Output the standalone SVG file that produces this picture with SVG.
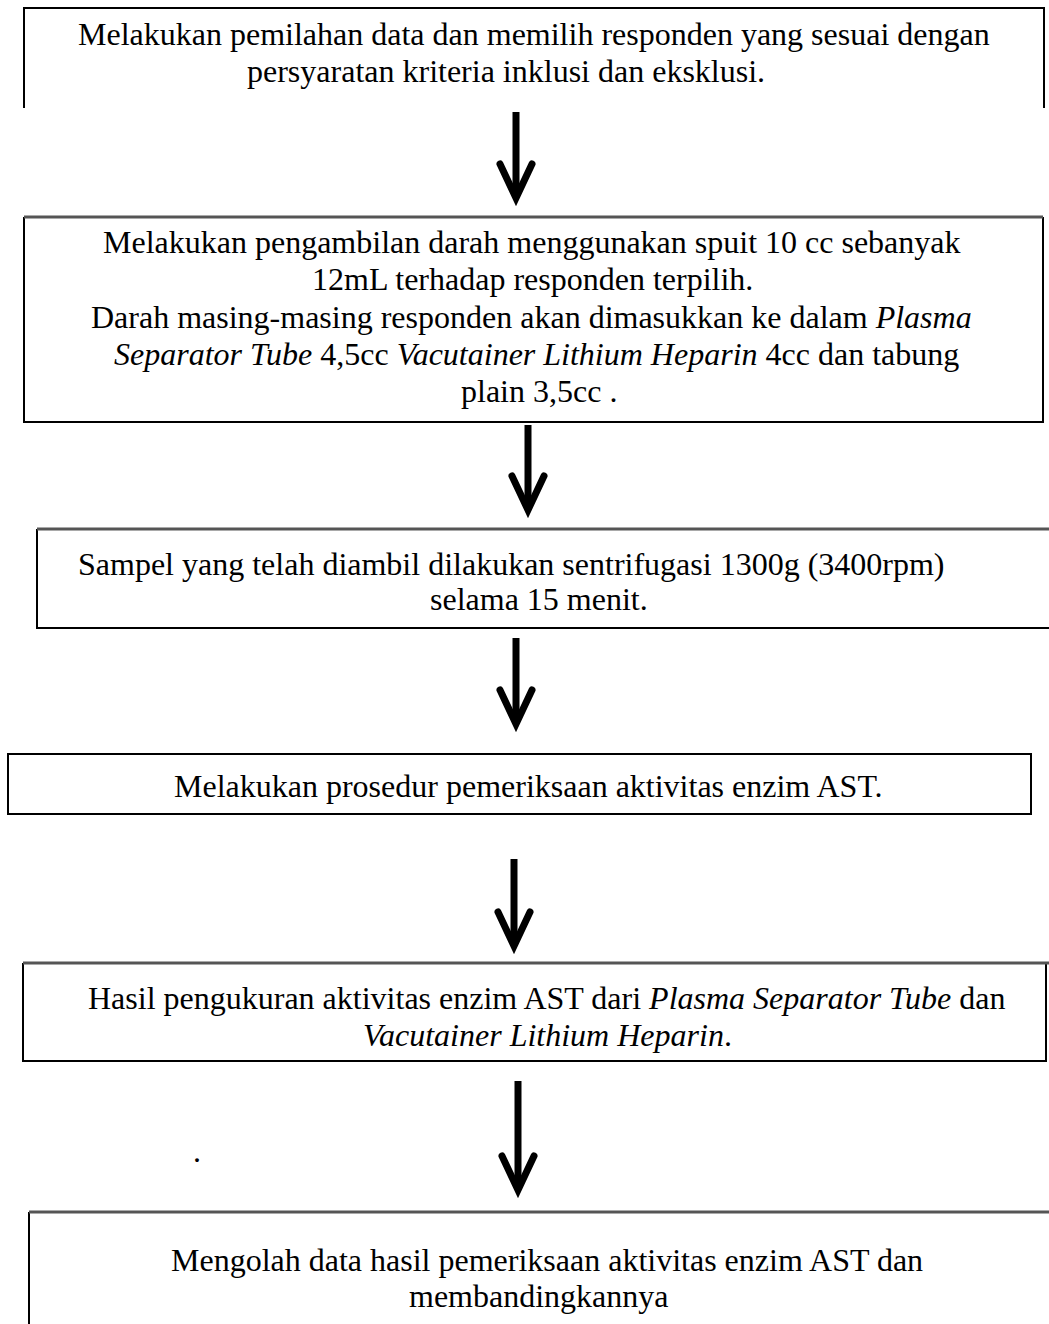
<svg xmlns="http://www.w3.org/2000/svg" width="1049" height="1324" viewBox="0 0 1049 1324">
<style>
  .t { font-family: "Liberation Serif", "Times New Roman", serif; font-size: 32px; fill: #000; }
  .i { font-style: italic; }
  .edge { stroke: #000; stroke-width: 2; fill: none; }
  .edgeg { stroke: #555; stroke-width: 3; fill: none; }
  .shaft { stroke: #000; stroke-width: 7; fill: none; marker-end: url(#head); }
</style>
<defs>
  <marker id="head" markerUnits="userSpaceOnUse" viewBox="-45 -25 60 50" refX="0" refY="0" markerWidth="60" markerHeight="50" orient="auto">
    <path d="M-34,-16 L0,0 L-34,16" stroke="#000" stroke-width="7" fill="none" stroke-linecap="round" stroke-linejoin="miter" stroke-miterlimit="10"/>
  </marker>
</defs>
<rect width="1049" height="1324" fill="#fff"/>

<g id="node1">
  <path class="edge" d="M24,108 V8 H1044 V108"/>
  <text class="t" x="78" y="45">Melakukan pemilahan data dan memilih responden yang sesuai dengan</text>
  <text class="t" x="247" y="82">persyaratan kriteria inklusi dan eksklusi.</text>
</g>

<g id="node2">
  <path class="edge" d="M24,217 V422 H1043 V217"/>
  <path class="edgeg" d="M24,217 H1043"/>
  <text class="t" x="103" y="253">Melakukan pengambilan darah menggunakan spuit 10 cc sebanyak</text>
  <text class="t" x="312" y="290">12mL terhadap responden terpilih.</text>
  <text class="t" x="91" y="328">Darah masing-masing responden akan dimasukkan ke dalam <tspan class="i">Plasma</tspan></text>
  <text class="t" x="114" y="365"><tspan class="i">Separator Tube</tspan> 4,5cc <tspan class="i">Vacutainer Lithium Heparin</tspan> 4cc dan tabung</text>
  <text class="t" x="461" y="402">plain 3,5cc .</text>
</g>

<g id="node3">
  <path class="edge" d="M1049,628 H37 V529"/>
  <path class="edgeg" d="M37,529 H1049"/>
  <text class="t" x="78" y="575">Sampel yang telah diambil dilakukan sentrifugasi 1300g (3400rpm)</text>
  <text class="t" x="430" y="610">selama 15 menit.</text>
</g>

<g id="node4">
  <rect class="edge" x="8" y="754" width="1023" height="60"/>
  <text class="t" x="174" y="797">Melakukan prosedur pemeriksaan aktivitas enzim AST.</text>
</g>

<g id="node5">
  <path class="edge" d="M23,963 V1061 H1046 V963"/>
  <path class="edgeg" d="M23,963 H1049"/>
  <text class="t" x="88" y="1009">Hasil pengukuran aktivitas enzim AST dari <tspan class="i">Plasma Separator Tube</tspan> dan</text>
  <text class="t" x="363" y="1046"><tspan class="i">Vacutainer Lithium Heparin</tspan>.</text>
</g>

<g id="node6">
  <path class="edge" d="M29,1324 V1212"/>
  <path class="edgeg" d="M29,1212 H1049"/>
  <text class="t" x="171" y="1271">Mengolah data hasil pemeriksaan aktivitas enzim AST dan</text>
  <text class="t" x="409" y="1307">membandingkannya</text>
</g>

<text class="t" x="193" y="1162">.</text>

<g id="connectors">
  <line class="shaft" x1="516" y1="112" x2="516" y2="198"/>
  <line class="shaft" x1="528" y1="425" x2="528" y2="510"/>
  <line class="shaft" x1="516" y1="638" x2="516" y2="724"/>
  <line class="shaft" x1="514" y1="859" x2="514" y2="946"/>
  <line class="shaft" x1="518" y1="1081" x2="518" y2="1190"/>
</g>
</svg>
